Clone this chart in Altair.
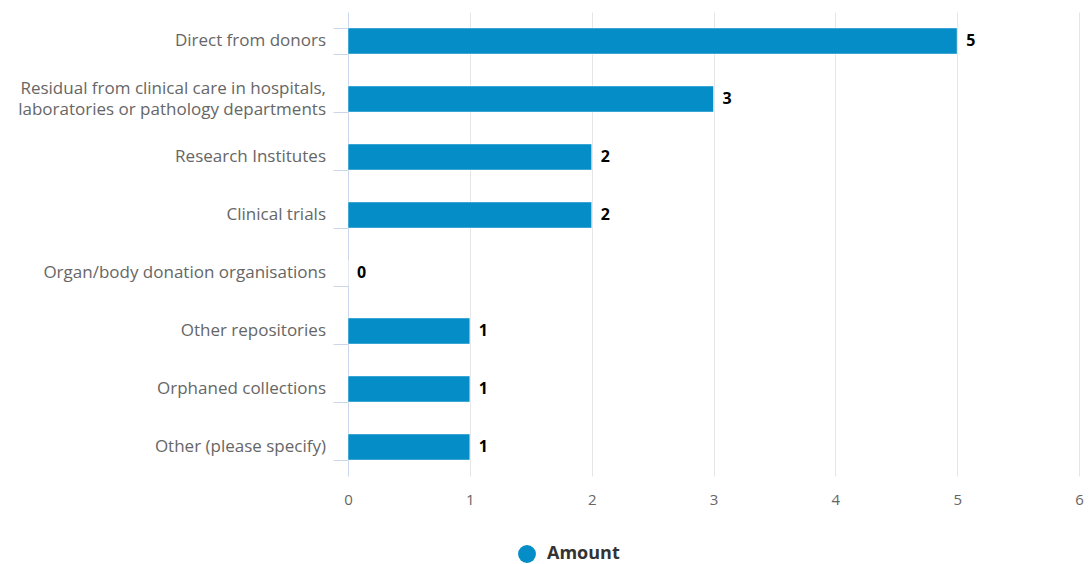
import altair as alt
import pandas as pd

categories = [
    "Direct from donors",
    "Residual from clinical care in hospitals,\nlaboratories or pathology departments",
    "Research Institutes",
    "Clinical trials",
    "Organ/body donation organisations",
    "Other repositories",
    "Orphaned collections",
    "Other (please specify)",
]
amounts = [5, 3, 2, 2, 0, 1, 1, 1]
series_name = "Amount"
x_ticks = [0, 1, 2, 3, 4, 5, 6]

df = pd.DataFrame({"category": categories, "amount": amounts, "series": [series_name] * len(categories)})

FONT = "Open Sans"
BLUE = "#058DC7"

y_scale = alt.Scale(paddingInner=0.55, paddingOuter=0.275)

y_enc = alt.Y(
    "category:N",
    sort=categories,
    title=None,
    scale=y_scale,
    axis=alt.Axis(
        labels=False,
        tickSize=15,
        tickColor="#ccd6eb",
        tickBand="extent",
        domainColor="#ccd6eb",
        grid=False,
    ),
)

x_enc = alt.X(
    "amount:Q",
    title=None,
    scale=alt.Scale(domain=[0, 6], nice=False),
    axis=alt.Axis(
        values=x_ticks,
        domain=False,
        ticks=False,
        grid=True,
        gridColor="#e6e6e6",
        labelFont=FONT,
        labelFontSize=15,
        labelColor="#666666",
        labelPadding=16,
        labelFlush=False,
        format="d",
    ),
)

base = alt.Chart(df)

bars = base.mark_bar(stroke="#ffffff", strokeWidth=0.5).encode(
    x=x_enc,
    y=y_enc,
    color=alt.Color(
        "series:N",
        scale=alt.Scale(range=[BLUE]),
        legend=alt.Legend(
            title=None,
            orient="none",
            legendX=170,
            legendY=533,
            symbolType="circle",
            symbolSize=320,
            symbolStrokeWidth=0,
            labelFont=FONT,
            labelFontSize=18,
            labelFontWeight="bold",
            labelColor="#333333",
            labelOffset=11,
        ),
    ),
)

values = base.mark_text(
    align="left", baseline="middle", dx=9, font=FONT, fontSize=16, fontWeight="bold", color="#000000"
).encode(
    x=alt.X("amount:Q", scale=alt.Scale(domain=[0, 6], nice=False)),
    y=alt.Y("category:N", sort=categories),
    text=alt.Text("amount:Q"),
)

label_style = dict(
    align="right", baseline="middle", font=FONT, fontSize=17, color="#666666",
    lineBreak="\n", lineHeight=21,
)

cat_single = base.transform_filter("indexof(datum.category, '\\n') < 0").mark_text(**label_style).encode(
    x=alt.value(-22),
    y=alt.Y("category:N", sort=categories),
    text="category:N",
)

cat_multi = base.transform_filter("indexof(datum.category, '\\n') >= 0").mark_text(dy=-10.5, **label_style).encode(
    x=alt.value(-22),
    y=alt.Y("category:N", sort=categories),
    text="category:N",
)

chart = (
    alt.layer(bars, values, cat_single, cat_multi)
    .properties(
        width=731,
        height=464,
        autosize=alt.AutoSizeParams(type="none"),
        padding={"left": 348, "top": 12, "right": 11, "bottom": 88},
    )
    .configure_view(stroke=None)
)

chart.save("out.html", embed_options={"renderer": "svg", "actions": False})
